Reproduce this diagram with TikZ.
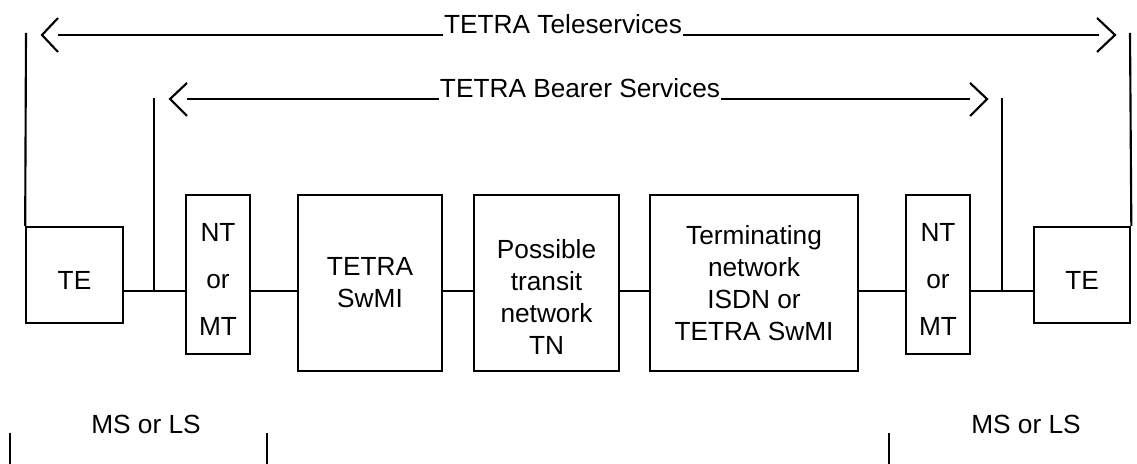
\documentclass[tikz,border=0pt]{standalone}
\usepackage{fontspec}
\setmainfont{Liberation Sans}
\usetikzlibrary{positioning}

\begin{document}
\begin{tikzpicture}[x=0.4pt, y=-0.4pt, line width=0.85pt,
    font=\fontsize{10.5}{12.8}\selectfont,
    unit/.style={draw, inner sep=0pt, align=center},
    te/.style={unit, minimum width=38.6pt, minimum height=38.4pt},
    nt/.style={unit, minimum width=25.6pt, minimum height=63.6pt},
    net/.style={unit, minimum height=70.4pt},
    inside/.style={align=center, inner sep=0pt, yshift=#1},
    service/.style={inner sep=0pt, anchor=base}
]
\useasboundingbox (0,0) rectangle (1137,464);

% Units on the line
\node[te, label={[inside=-2pt]center:TE}] (teL) at (74.5,275) {};
\node[nt, label={[inside=-2pt, font=\fontsize{10.5}{18.8}\selectfont]center:NT\\or\\MT}] (ntL) at (218,274.5) {};
\node[net, minimum width=57.6pt] (swmi) at (370,283) {TETRA\\SwMI};
\node[net, minimum width=58pt, label={[inside=-5.4pt]center:Possible\\transit\\network\\TN}] (transit) at (546.5,283) {};
\node[net, minimum width=83.2pt] (term) at (754,283) {Terminating\\network\\ISDN or\\TETRA SwMI};
\node[nt, label={[inside=-2pt, font=\fontsize{10.5}{18.8}\selectfont]center:NT\\or\\MT}] (ntR) at (938,274.5) {};
\node[te, label={[inside=-2pt]center:TE}] (teR) at (1082,275) {};

\coordinate (bus) at (0,291);

% Links
\draw (teL.east |- bus) -- (ntL.west |- bus);
\draw (ntL.east |- bus) -- (swmi.west |- bus);
\draw (swmi.east |- bus) -- (transit.west |- bus);
\draw (transit.east |- bus) -- (term.west |- bus);
\draw (term.east |- bus) -- (ntR.west |- bus);
\draw (ntR.east |- bus) -- (teR.west |- bus);

% Service limits
\coordinate (oL) at (26,33);
\coordinate (oR) at (1130,33);
\coordinate (iL) at (154,98);
\coordinate (iR) at (1002,98);
\draw (teL.north west) -- (oL);
\draw (teR.north east) -- (oR);
\draw (iL) -- (iL |- bus);
\draw (iR) -- (iR |- bus);

% Teleservices
\node[service] (tele) at (563,34) {TETRA Teleservices};
\coordinate (teleL) at (58,35);
\coordinate (teleR) at (1099,35);
\draw (tele.west |- teleL) -- (teleL);
\draw (tele.east |- teleR) -- (teleR);
\draw (teleL) ++(0,-17) -- ++(-16,17) -- ++(16,17);
\draw (teleR) ++(-2,-17) -- ++(18,17) -- ++(-18,17);

% Bearer services
\node[service] (bearer) at (580,98) {TETRA Bearer Services};
\coordinate (bearL) at (187,99);
\coordinate (bearR) at (970,99);
\draw (bearer.west |- bearL) -- (bearL);
\draw (bearer.east |- bearR) -- (bearR);
\draw (bearL) ++(0,-16) -- ++(-17,16) -- ++(17,17);
\draw (bearR) ++(0,-16) -- ++(17,16) -- ++(-17,17);

% Stations
\node (msL) at (146,424) {MS or LS};
\node (msR) at (1026,424) {MS or LS};
\draw (10,433) -- (10,464);
\draw (267,433) -- (267,464);
\draw (889,433) -- (889,464);

\end{tikzpicture}
\end{document}
